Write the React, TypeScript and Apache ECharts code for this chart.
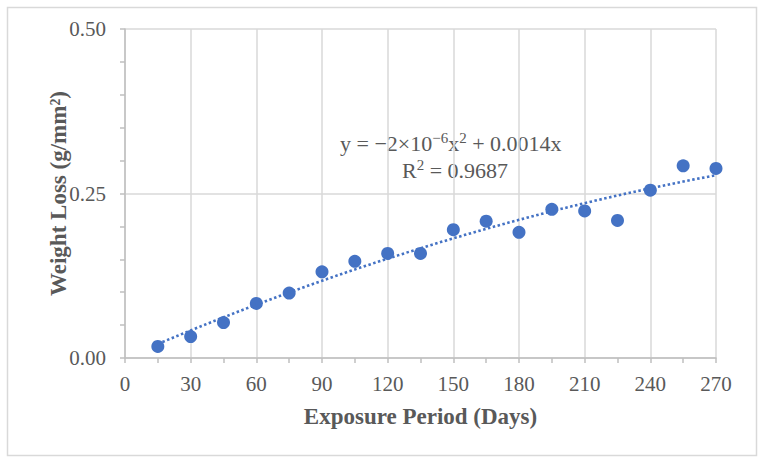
import React, { useEffect, useRef } from "react";
import * as echarts from "echarts";

const days = [15, 30, 45, 60, 75, 90, 105, 120, 135, 150, 165, 180, 195, 210, 225, 240, 255, 270];
const weightLoss = [0.0175, 0.0326, 0.0538, 0.083, 0.0986, 0.131, 0.147, 0.159, 0.159, 0.195, 0.208, 0.191, 0.226, 0.2235, 0.209, 0.255, 0.292, 0.288];
const equationParts = ["y = −2×10", "−6", "x", "2", " + 0.0014x"];
const r2Parts = ["R", "2", " = 0.9687"];
const xTitle = "Exposure Period (Days)";
const yTitle = "Weight Loss (g/mm²)";

// Least-squares fit of y = a x^2 + b x (zero intercept), as the chart's trendline
function fitQuadThroughOrigin(xs: number[], ys: number[]) {
  let s4 = 0, s3 = 0, s2 = 0, sx2y = 0, sxy = 0;
  for (let i = 0; i < xs.length; i++) {
    const x = xs[i], y = ys[i];
    s4 += x ** 4; s3 += x ** 3; s2 += x ** 2; sx2y += x * x * y; sxy += x * y;
  }
  const det = s4 * s2 - s3 * s3;
  const a = (sx2y * s2 - s3 * sxy) / det;
  const b = (s4 * sxy - s3 * sx2y) / det;
  return { a, b };
}

const FONT = '"Liberation Serif", "Times New Roman", serif';
const TEXT = "#595959";
const GRID = "#d9d9d9";
const AXIS = "#bfbfbf";
const BLUE = "#4472C4";

const rich = {
  n: { fontFamily: FONT, fontSize: 22, color: TEXT, lineHeight: 24, verticalAlign: "bottom" },
  s: { fontFamily: FONT, fontSize: 15, color: TEXT, lineHeight: 24, verticalAlign: "top" },
};

export default function App() {
  const ref = useRef<HTMLDivElement>(null);
  useEffect(() => {
    if (!ref.current) return;
    const chart = echarts.init(ref.current, undefined, { renderer: "svg" });
    const { a, b } = fitQuadThroughOrigin(days, weightLoss);
    const trend: number[][] = [];
    for (let x = days[0]; x <= days[days.length - 1]; x += 5) trend.push([x, a * x * x + b * x]);

    const eq = `{n|${equationParts[0]}}{s|${equationParts[1]}}{n|${equationParts[2]}}{s|${equationParts[3]}}{n|${equationParts[4]}}`;
    const r2 = `{n|${r2Parts[0]}}{s|${r2Parts[1]}}{n|${r2Parts[2]}}`;

    chart.setOption({
      animation: false,
      backgroundColor: "#fff",
      grid: { left: 125, right: 49, top: 29, bottom: 105, containLabel: false },
      xAxis: {
        type: "value",
        min: 0,
        max: 270,
        interval: 30,
        name: xTitle,
        nameLocation: "middle",
        nameGap: 47,
        nameMoveOverlap: false,
        nameTextStyle: { fontFamily: FONT, fontSize: 23, fontWeight: "bold", color: TEXT },
        axisLine: { show: true, lineStyle: { color: AXIS, width: 1.5 } },
        axisTick: { show: true, length: 5, lineStyle: { color: AXIS, width: 1.5 } },
        minorTick: { show: true, splitNumber: 2, length: 5, lineStyle: { color: AXIS, width: 1.5 } },
        axisLabel: { fontFamily: FONT, fontSize: 21, color: TEXT, margin: 15 },
        splitLine: { show: true, lineStyle: { color: GRID, width: 1.5 } },
      },
      yAxis: {
        type: "value",
        min: 0,
        max: 0.5,
        interval: 0.25,
        name: yTitle,
        nameLocation: "middle",
        nameGap: 55,
        nameMoveOverlap: false,
        nameTextStyle: { fontFamily: FONT, fontSize: 23, fontWeight: "bold", color: TEXT },
        axisLine: { show: true, lineStyle: { color: AXIS, width: 1.5 } },
        axisTick: { show: true, length: 5, lineStyle: { color: AXIS, width: 1.5 } },
        minorTick: { show: true, splitNumber: 5, length: 5, lineStyle: { color: AXIS, width: 1.5 } },
        axisLabel: { fontFamily: FONT, fontSize: 21, color: TEXT, margin: 19, formatter: (v: number) => v.toFixed(2) },
        splitLine: { show: true, lineStyle: { color: GRID, width: 1.5 } },
      },
      series: [
        {
          type: "scatter",
          data: days.map((d, i) => [d, weightLoss[i]]),
          symbol: "circle",
          symbolSize: 13,
          itemStyle: { color: BLUE, opacity: 1 },
          z: 2,
        },
        {
          type: "line",
          data: trend,
          showSymbol: false,
          smooth: false,
          lineStyle: { color: BLUE, width: 2.6, type: [2.5, 2.5] },
          z: 3,
        },
      ],
      graphic: [
        {
          type: "rect",
          shape: { x: 7.5, y: 7.5, width: 749, height: 448 },
          style: { fill: "none", stroke: GRID, lineWidth: 1.5 },
          silent: true,
          z: -1,
        },
        {
          type: "text",
          left: 340,
          top: 130,
          style: { text: eq, rich, fill: TEXT },
        },
        {
          type: "text",
          left: 402,
          top: 157,
          style: { text: r2, rich, fill: TEXT },
        },
      ],
    });
    return () => chart.dispose();
  }, []);
  return <div ref={ref} style={{ position: "fixed", left: 0, top: 0, width: 765, height: 463 }} />;
}
